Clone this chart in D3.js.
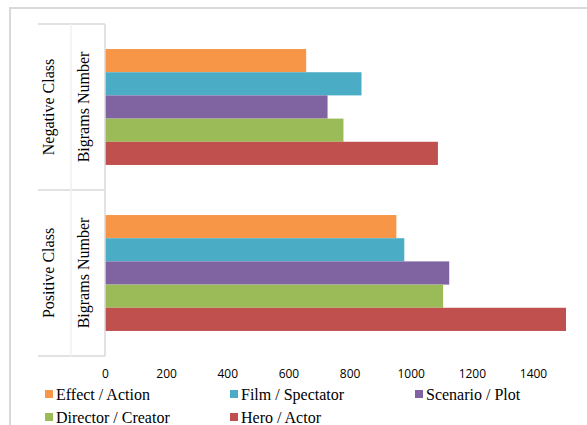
<!DOCTYPE html>
<html>
<head>
<meta charset="utf-8">
<script src="https://cdn.jsdelivr.net/npm/d3@7"></script>
<style>
  body { margin: 0; background: #fff; }
  svg { display: block; }
  .serif { font-family: "Liberation Serif", "Times New Roman", serif; }
</style>
</head>
<body>
<svg id="chart" width="587" height="425"></svg>
<script>
// data
let classes = ["Negative Class", "Positive Class"];
let innerLabel = "Bigrams Number";
let series = ["Effect / Action", "Film / Spectator", "Scenario / Plot", "Director / Creator", "Hero / Actor"];
let colours = ["#F79646", "#4BACC6", "#8064A2", "#9BBB59", "#C0504D"];
let negativeValues = [658, 839, 728, 780, 1089];
let positiveValues = [953, 979, 1126, 1106, 1508];
let tickLabels = [0, 200, 400, 600, 800, 1000, 1200, 1400];

let svg = d3.select("#chart");

// chart frame (only top and left visible in the crop)
svg.append("path")
   .attr("d", "M10,600 L10,8 L600,8")
   .attr("fill", "none")
   .attr("stroke", "#d9d9d9")
   .attr("stroke-width", 2);

let plotLeft = 105, plotTop = 24, plotBottom = 356;

let x = d3.scaleLinear()
          .domain([0, 1400])
          .range([plotLeft, plotLeft + 428]);

let y = d3.scaleBand()
          .domain(classes)
          .range([plotTop, plotBottom]);

let inner = d3.scaleBand()
              .domain(series)
              .range([0, y.bandwidth()])
              .paddingOuter(1.08);

let data = [negativeValues, positiveValues];

data.forEach(function(vals, ci){
    let g = svg.append("g")
               .attr("transform", `translate(0,${y(classes[ci])})`);
    g.selectAll("rect")
     .data(vals)
     .enter()
     .append("rect")
     .attr("x", x(0))
     .attr("y", function(d, i){ return inner(series[i]); })
     .attr("width", function(d){ return x(d) - x(0); })
     .attr("height", inner.bandwidth())
     .attr("fill", function(d, i){ return colours[i]; });
});

// value axis labels (no line)
let xAxis = d3.axisBottom(x).tickValues(tickLabels).tickSize(0).tickFormat(d3.format("d"));
let ax = svg.append("g")
            .attr("transform", `translate(0,${366})`)
            .call(xAxis);
ax.select(".domain").remove();
ax.selectAll("text")
  .attr("fill", "#000")
  .style("font-family", "'Open Sans', sans-serif")
  .style("font-size", "12px");

// category axis, two levels
let catG = svg.append("g").attr("stroke", "#d9d9d9").attr("stroke-width", 1.5);
catG.append("line")
    .attr("x1", plotLeft).attr("x2", plotLeft)
    .attr("y1", plotTop).attr("y2", plotBottom);
let edges = [plotTop, plotTop + y.bandwidth(), plotBottom];
edges.forEach(function(e){
    catG.append("line")
        .attr("x1", 38).attr("x2", plotLeft)
        .attr("y1", e).attr("y2", e);
});
catG.append("line")
    .attr("x1", 71).attr("x2", 71)
    .attr("y1", plotTop).attr("y2", plotBottom)
    .attr("stroke", "#f0f0f0");

classes.forEach(function(c){
    let cy = y(c) + y.bandwidth() / 2;
    svg.append("text")
       .attr("class", "serif")
       .attr("transform", `translate(54,${cy}) rotate(-90)`)
       .attr("text-anchor", "middle")
       .style("font-size", "16px")
       .text(c);
    svg.append("text")
       .attr("class", "serif")
       .attr("transform", `translate(89,${cy}) rotate(-90)`)
       .attr("text-anchor", "middle")
       .style("font-size", "16px")
       .text(innerLabel);
});

// legend
let legendX = [45, 230, 415];
let legendY = [394, 417];
let leg = svg.append("g");
series.forEach(function(s, i){
    let lx = legendX[i % 3], ly = legendY[Math.floor(i / 3)];
    leg.append("rect")
       .attr("x", lx).attr("y", ly - 4)
       .attr("width", 8).attr("height", 8)
       .attr("fill", colours[i]);
    leg.append("text")
       .attr("class", "serif")
       .attr("x", lx + 11).attr("y", ly)
       .attr("dy", "0.35em")
       .style("font-size", "16px")
       .text(s);
});
</script>
</body>
</html>
